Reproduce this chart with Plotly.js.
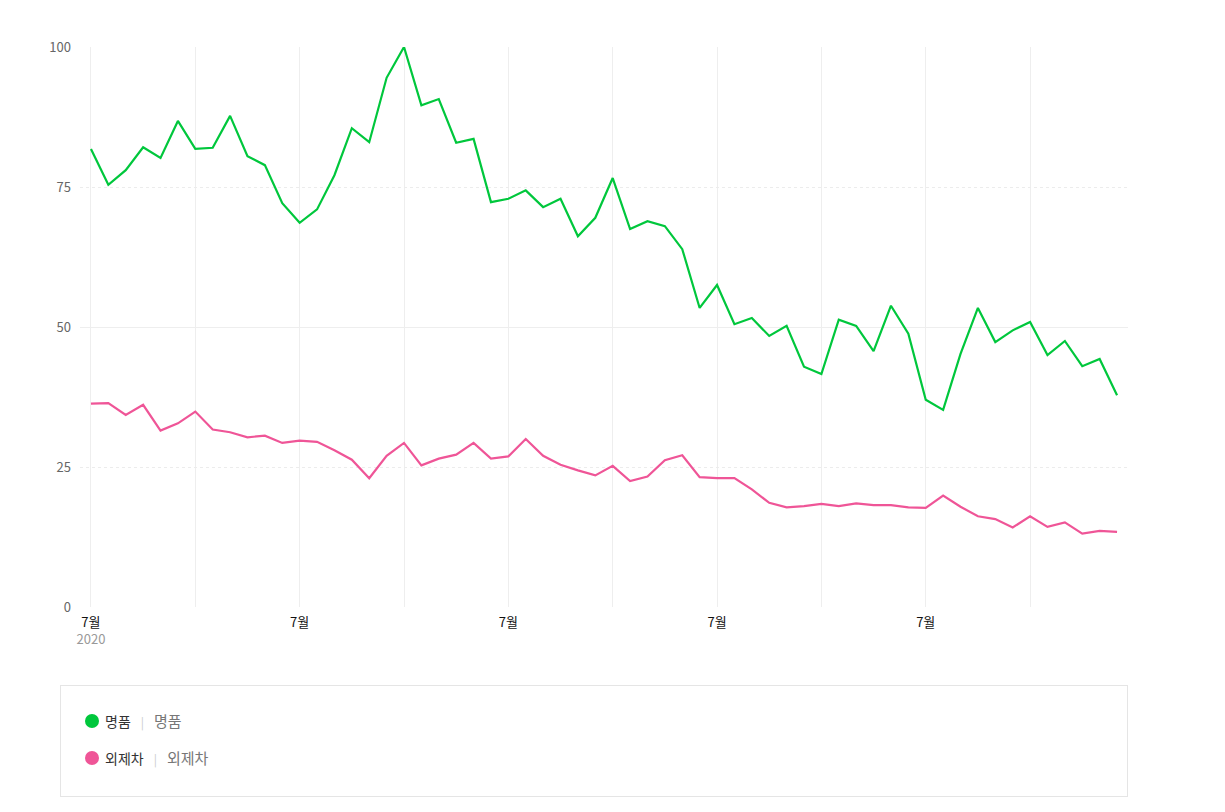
<!DOCTYPE html>
<html>
<head>
<meta charset="utf-8">
<script src="https://cdn.plot.ly/plotly-3.0.1.min.js"></script>
<style>
  body { margin: 0; background: #fff; font-family: 'Noto Sans CJK KR', 'Noto Sans', sans-serif; }
  #chart { width: 1225px; height: 660px; }
  #legend {
    position: absolute; left: 60px; top: 685px; width: 1068px; height: 112px;
    border: 1px solid #e5e5e5; box-sizing: border-box;
  }
  .item { position: absolute; left: 24px; font-size: 14px; line-height: 18px; }
  .dot { display: inline-block; width: 14px; height: 14px; border-radius: 50%; vertical-align: -1px; margin-right: 6px; }
  .name { color: #333; }
  .sep { color: #ccc; margin: 0 10px; font-size: 12px; }
  .kw { color: #777; font-size: 15px; }
</style>
</head>
<body>
<div id="chart"></div>
<div id="legend"></div>
<script>
// monthly index, 2020-07 .. 2025-06 (60 points)
const months = Array.from({ length: 60 }, (_, i) => i);

const seriesNames = ['명품', '외제차'];
const seriesColors = ['#00c73c', '#ef5597'];

const luxury = [
  81.8, 75.4, 78.0, 82.1, 80.2, 86.8, 81.8, 82.0, 87.7, 80.5,
  78.9, 72.1, 68.6, 71.0, 77.1, 85.5, 83.0, 94.5, 100, 89.6,
  90.7, 82.9, 83.6, 72.3, 72.9, 74.4, 71.4, 72.9, 66.2, 69.5,
  76.6, 67.5, 68.9, 68.0, 63.9, 53.4, 57.5, 50.5, 51.6, 48.4,
  50.2, 42.9, 41.6, 51.3, 50.2, 45.7, 53.8, 48.8, 37.0, 35.2,
  45.2, 53.4, 47.3, 49.4, 50.9, 45.0, 47.5, 43.0, 44.3, 37.8
];

const importedCar = [
  36.3, 36.4, 34.3, 36.1, 31.5, 32.8, 34.9, 31.7, 31.2, 30.3,
  30.6, 29.3, 29.7, 29.5, 28.0, 26.3, 23.0, 27.0, 29.3, 25.3,
  26.5, 27.2, 29.3, 26.5, 26.9, 30.0, 27.0, 25.4, 24.4, 23.5,
  25.2, 22.5, 23.3, 26.2, 27.1, 23.2, 23.0, 23.0, 21.0, 18.6,
  17.8, 18.0, 18.4, 18.0, 18.5, 18.2, 18.2, 17.8, 17.7, 19.9,
  17.9, 16.2, 15.7, 14.2, 16.2, 14.3, 15.1, 13.1, 13.6, 13.4
];

const xTickVals = [0, 12, 24, 36, 48];
const xTickText = ['7월<br><span style="color:#999">2020</span>', '7월', '7월', '7월', '7월'];
const xMinorVals = [6, 18, 30, 42, 54];
const yTickVals = [0, 25, 50, 75, 100];
const ySolidVals = [0, 50, 100];

const traces = [luxury, importedCar].map((vals, k) => ({
  x: months,
  y: vals,
  name: seriesNames[k],
  type: 'scatter',
  mode: 'lines',
  line: { color: seriesColors[k], width: 2.2 },
  hoverinfo: 'y'
}));

// empty trace so the overlay axis (solid grid lines) gets drawn
traces.unshift({ x: [], y: [], yaxis: 'y2', type: 'scatter', mode: 'lines', showlegend: false, hoverinfo: 'skip' });

const layout = {
  width: 1225,
  height: 660,
  margin: { l: 80, r: 97, t: 47, b: 53 },
  paper_bgcolor: '#fff',
  plot_bgcolor: '#fff',
  showlegend: false,
  font: { family: "'Noto Sans CJK KR', 'Noto Sans', sans-serif", size: 12, color: '#666' },
  xaxis: {
    range: [-0.63, 59.63],
    tickvals: xTickVals,
    ticktext: xTickText,
    tickfont: { size: 13, color: '#111' },
    ticks: '',
    ticklabelstandoff: 6,
    showgrid: true,
    gridcolor: '#eeeeee',
    gridwidth: 1,
    zeroline: false,
    showline: false,
    minor: { tickvals: xMinorVals, showgrid: true, gridcolor: '#eeeeee', gridwidth: 1 }
  },
  yaxis: {
    range: [0, 100],
    tickvals: yTickVals,
    tickfont: { size: 13, color: '#666' },
    ticks: '',
    ticklabelstandoff: 8,
    showgrid: true,
    gridcolor: '#ececec',
    griddash: 'dot',
    zeroline: false,
    showline: false
  },
  yaxis2: {
    overlaying: 'y',
    range: [0, 100],
    tickvals: ySolidVals,
    showticklabels: false,
    ticks: '',
    showgrid: true,
    gridcolor: '#eeeeee',
    gridwidth: 1,
    zeroline: false,
    showline: false
  }
};

Plotly.newPlot('chart', traces, layout, { displayModeBar: false, staticPlot: true });

// legend box under the chart
const legend = document.getElementById('legend');
seriesNames.forEach((name, k) => {
  const row = document.createElement('div');
  row.className = 'item';
  row.style.top = (k === 0 ? 26 : 63) + 'px';
  row.innerHTML = '<span class="dot" style="background:' + seriesColors[k] + '"></span>' +
    '<span class="name">' + name + '</span><span class="sep">|</span><span class="kw">' + name + '</span>';
  legend.appendChild(row);
});
</script>
</body>
</html>
